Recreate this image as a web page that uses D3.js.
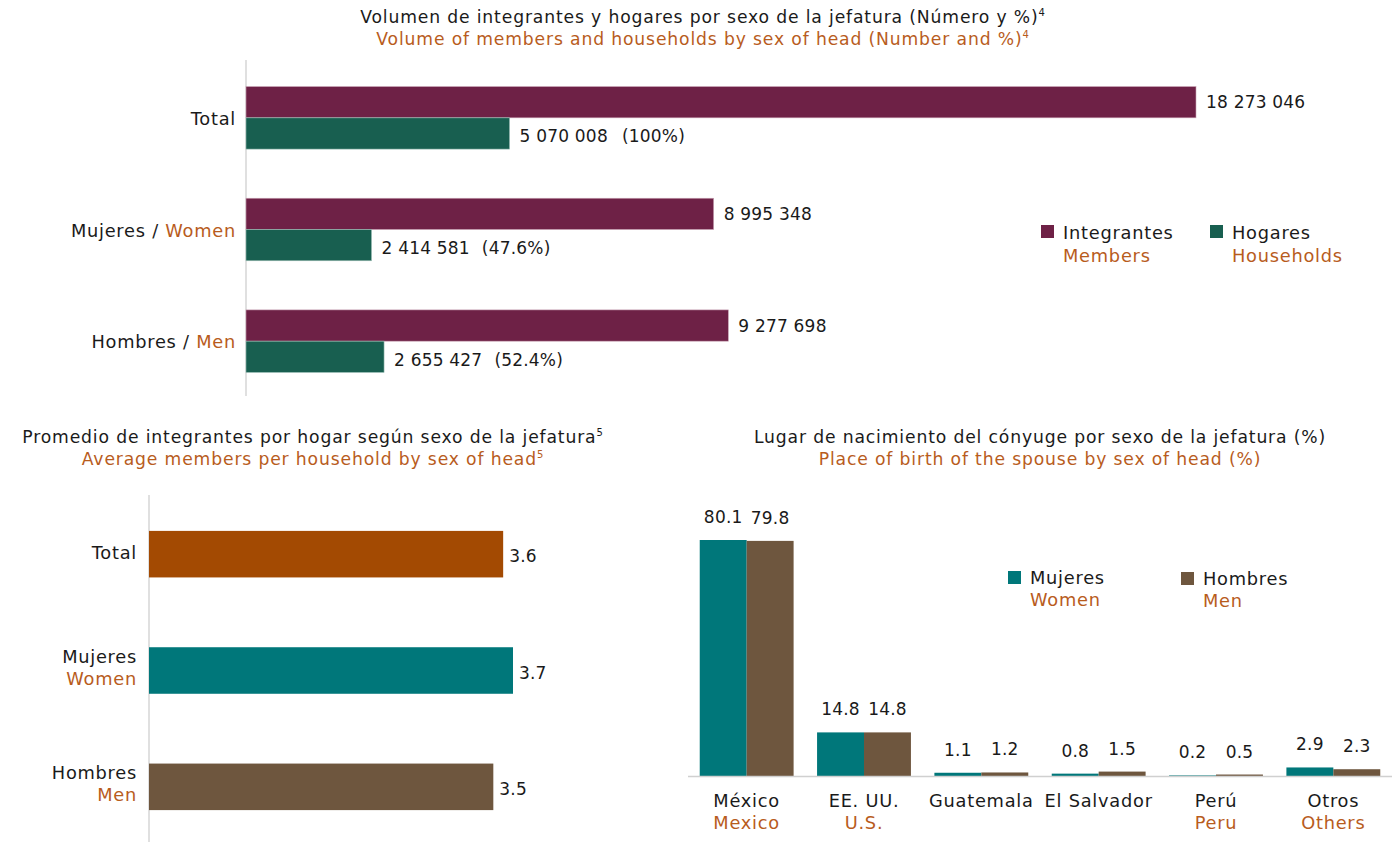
<!DOCTYPE html>
<html>
<head>
<meta charset="utf-8">
<script src="https://cdn.jsdelivr.net/npm/d3@7"></script>
<style>
  html, body { margin: 0; padding: 0; background: #ffffff; }
  svg { display: block; }
  text { font-family: "DejaVu Sans", "Noto Sans", sans-serif; fill: #1a1a1a; }
  .title { font-size: 17.2px; letter-spacing: 0.85px; }
  .lab { font-size: 17.8px; letter-spacing: 0.75px; }
  .num { font-size: 17px; letter-spacing: 0.2px; }
  .en { fill: #b85c1d; }
</style>
</head>
<body>
<svg id="chart" width="1396" height="842"></svg>
<script>
// ---- Volume of members and households by sex of head ----
const volCategories = ["Total", "Mujeres", "Hombres"];
const volCategoriesEn = ["", "Women", "Men"];
const volMembers = [18273046, 8995348, 9277698];
const volHouseholds = [5070008, 2414581, 2655427];
const volHouseholdPct = ["(100%)", "(47.6%)", "(52.4%)"];

// ---- Average members per household ----
const avgCategories = ["Total", "Mujeres", "Hombres"];
const avgCategoriesEn = ["", "Women", "Men"];
const avgValues = [3.6, 3.7, 3.5];

// ---- Place of birth of the spouse ----
const birthCountries = ["México", "EE. UU.", "Guatemala", "El Salvador", "Perú", "Otros"];
const birthCountriesEn = ["Mexico", "U.S.", "", "", "Peru", "Others"];
const birthWomen = [80.1, 14.8, 1.1, 0.8, 0.2, 2.9];
const birthMen = [79.8, 14.8, 1.2, 1.5, 0.5, 2.3];

const C = {
  members: "#6e2146",
  households: "#185f50",
  total: "#a34a02",
  women: "#00777a",
  men: "#6e563e",
  axis: "#d0d0d0"
};

const svg = d3.select("#chart");
const fmtSpace = n => d3.format(",")(n).replace(/,/g, " ");

// Two-line (Spanish / English) title centred on cx
function title(g, cx, y, es, en, sup) {
  const t1 = g.append("text").attr("class", "title").attr("x", cx).attr("y", y).attr("text-anchor", "middle").text(es);
  const t2 = g.append("text").attr("class", "title en").attr("x", cx).attr("y", y + 22).attr("text-anchor", "middle").text(en);
  if (sup) {
    [t1, t2].forEach(t => t.append("tspan").attr("font-size", 10).attr("dy", -7).text(sup));
  }
}

// ===================== Chart 1 =====================
{
  const g = svg.append("g");
  title(g, 703, 23, "Volumen de integrantes y hogares por sexo de la jefatura (Número y %)",
    "Volume of members and households by sex of head (Number and %)", "4");

  const x = d3.scaleLinear().domain([0, d3.max(volMembers)]).range([246, 1196]);
  const y = d3.scaleBand().domain(volCategories).range([62, 397]).paddingInner(0.44).paddingOuter(0.22);
  const sub = d3.scaleBand().domain(["m", "h"]).range([0, y.bandwidth()]);

  g.append("line").attr("x1", 246).attr("x2", 246).attr("y1", 60).attr("y2", 396)
    .attr("stroke", C.axis).attr("stroke-width", 1.3);

  volCategories.forEach((c, i) => {
    const y0 = y(c);
    g.append("rect").attr("x", x(0)).attr("y", y0 + sub("m")).attr("width", x(volMembers[i]) - x(0))
      .attr("height", sub.bandwidth()).attr("fill", C.members).attr("stroke", "#c9a3b4").attr("stroke-width", 0.6);
    g.append("rect").attr("x", x(0)).attr("y", y0 + sub("h")).attr("width", x(volHouseholds[i]) - x(0))
      .attr("height", sub.bandwidth()).attr("fill", C.households).attr("stroke", "#9fc0b7").attr("stroke-width", 0.6);
    g.append("text").attr("class", "num").attr("x", x(volMembers[i]) + 10).attr("y", y0 + sub("m") + sub.bandwidth() / 2)
      .attr("dominant-baseline", "central").text(fmtSpace(volMembers[i]));
    const hl = g.append("text").attr("class", "num").attr("x", x(volHouseholds[i]) + 10)
      .attr("y", y0 + sub("h") + sub.bandwidth() / 2 + 3).attr("dominant-baseline", "central");
    hl.append("tspan").text(fmtSpace(volHouseholds[i]));
    hl.append("tspan").attr("dx", i === 0 ? 14 : 12).text(volHouseholdPct[i]);
    const lab = g.append("text").attr("class", "lab").attr("x", 236).attr("y", y0 + y.bandwidth() / 2)
      .attr("text-anchor", "end").attr("dominant-baseline", "central");
    lab.append("tspan").text(c);
    if (volCategoriesEn[i]) {
      lab.append("tspan").text(" / ");
      lab.append("tspan").attr("class", "en").text(volCategoriesEn[i]);
    }
  });

  // legend
  const leg = [
    { x: 1041, color: C.members, es: "Integrantes", en: "Members" },
    { x: 1210, color: C.households, es: "Hogares", en: "Households" }
  ];
  leg.forEach(d => {
    g.append("rect").attr("x", d.x).attr("y", 225).attr("width", 13).attr("height", 13).attr("fill", d.color);
    g.append("text").attr("class", "lab").attr("x", d.x + 22).attr("y", 232).attr("dominant-baseline", "central").text(d.es);
    g.append("text").attr("class", "lab en").attr("x", d.x + 22).attr("y", 255).attr("dominant-baseline", "central").text(d.en);
  });
}

// ===================== Chart 2 =====================
{
  const g = svg.append("g");
  title(g, 313, 443, "Promedio de integrantes por hogar según sexo de la jefatura",
    "Average members per household by sex of head", "5");

  const x = d3.scaleLinear().domain([0, 3.7]).range([149, 513]);
  const y = d3.scaleBand().domain(avgCategories).range([496, 845]).paddingInner(0.6).paddingOuter(0.3);
  const colors = [C.total, C.women, C.men];

  g.append("line").attr("x1", 149).attr("x2", 149).attr("y1", 495).attr("y2", 842)
    .attr("stroke", C.axis).attr("stroke-width", 1.3);

  avgCategories.forEach((c, i) => {
    const y0 = y(c);
    g.append("rect").attr("x", x(0)).attr("y", y0).attr("width", x(avgValues[i]) - x(0))
      .attr("height", y.bandwidth()).attr("fill", colors[i]);
    g.append("text").attr("class", "num").attr("x", x(avgValues[i]) + 6).attr("y", y0 + y.bandwidth() / 2 + 2)
      .attr("dominant-baseline", "central").text(avgValues[i].toFixed(1));
    const cy = y0 + y.bandwidth() / 2;
    if (avgCategoriesEn[i]) {
      g.append("text").attr("class", "lab").attr("x", 137).attr("y", cy - 14).attr("text-anchor", "end")
        .attr("dominant-baseline", "central").text(c);
      g.append("text").attr("class", "lab en").attr("x", 137).attr("y", cy + 8).attr("text-anchor", "end")
        .attr("dominant-baseline", "central").text(avgCategoriesEn[i]);
    } else {
      g.append("text").attr("class", "lab").attr("x", 137).attr("y", cy - 2).attr("text-anchor", "end")
        .attr("dominant-baseline", "central").text(c);
    }
  });
}

// ===================== Chart 3 =====================
{
  const g = svg.append("g");
  title(g, 1040, 443, "Lugar de nacimiento del cónyuge por sexo de la jefatura (%)",
    "Place of birth of the spouse by sex of head (%)", null);

  const x = d3.scaleBand().domain(birthCountries).range([688, 1392]).paddingInner(0.2).paddingOuter(0.1);
  const sub = d3.scaleBand().domain(["w", "m"]).range([0, x.bandwidth()]);
  const y = d3.scaleLinear().domain([0, 80.1]).range([776, 540]);

  birthCountries.forEach((c, i) => {
    const x0 = x(c);
    [["w", birthWomen[i], C.women], ["m", birthMen[i], C.men]].forEach(([k, v, col]) => {
      g.append("rect").attr("x", x0 + sub(k)).attr("y", y(v)).attr("width", sub.bandwidth())
        .attr("height", y(0) - y(v)).attr("fill", col);
      g.append("text").attr("class", "num").attr("x", x0 + sub(k) + sub.bandwidth() / 2).attr("y", y(v) - 23)
        .attr("text-anchor", "middle").attr("dominant-baseline", "central").text(v.toFixed(1));
    });
    const cx = x0 + x.bandwidth() / 2;
    g.append("text").attr("class", "lab").attr("x", cx).attr("y", 800).attr("text-anchor", "middle")
      .attr("dominant-baseline", "central").text(c);
    if (birthCountriesEn[i]) {
      g.append("text").attr("class", "lab en").attr("x", cx).attr("y", 822).attr("text-anchor", "middle")
        .attr("dominant-baseline", "central").text(birthCountriesEn[i]);
    }
  });

  g.append("line").attr("x1", 688).attr("x2", 1392).attr("y1", 776.5).attr("y2", 776.5)
    .attr("stroke", C.axis).attr("stroke-width", 1.3);

  const leg = [
    { x: 1008, y: 571, color: C.women, es: "Mujeres", en: "Women" },
    { x: 1181, y: 572, color: C.men, es: "Hombres", en: "Men" }
  ];
  leg.forEach(d => {
    g.append("rect").attr("x", d.x).attr("y", d.y).attr("width", 13).attr("height", 13).attr("fill", d.color);
    g.append("text").attr("class", "lab").attr("x", d.x + 22).attr("y", d.y + 6).attr("dominant-baseline", "central").text(d.es);
    g.append("text").attr("class", "lab en").attr("x", d.x + 22).attr("y", d.y + 28).attr("dominant-baseline", "central").text(d.en);
  });
}
</script>
</body>
</html>
